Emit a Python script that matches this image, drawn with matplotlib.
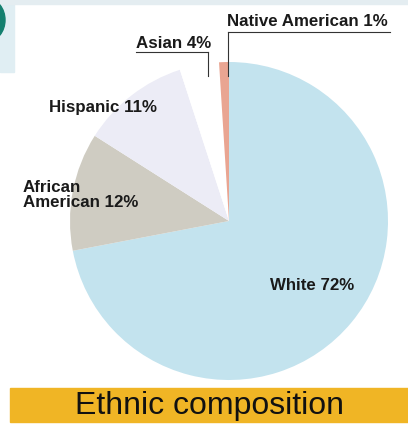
import matplotlib
matplotlib.use("Agg")
import matplotlib.pyplot as plt
from matplotlib.patches import Rectangle, Ellipse
from matplotlib.lines import Line2D

groups = ["White", "African\nAmerican", "Hispanic", "Asian", "Native American"]
shares = [72, 12, 11, 4, 1]
colors = ["#c3e3ee", "#cfccc2", "#ececf6", "#ffffff", "#e9a592"]
title = "Ethnic composition"

W, H = 408, 428
fig = plt.figure(figsize=(W / 100, H / 100), dpi=100)
fig.patch.set_facecolor("white")


def fx(px):
    return px / W


def fy(py):
    return 1 - py / H


# page decoration at top-left
fig.add_artist(Rectangle((0, fy(72)), fx(14), 72 / H, transform=fig.transFigure,
                         color="#e0eef3", zorder=0))
fig.add_artist(Rectangle((0, fy(4)), 1, 4 / H, transform=fig.transFigure,
                         color="#e4edf1", zorder=0))
fig.add_artist(Ellipse((fx(-12), fy(20)), 2 * 17 / W, 2 * 21 / H,
                       transform=fig.transFigure, color="#14806f", zorder=1))

# pie
cx, cy, r = 229, 221, 159
ax = fig.add_axes([fx(cx - r), fy(cy + r), 2 * r / W, 2 * r / H])
ax.pie(shares, colors=colors, startangle=90, counterclock=False,
       wedgeprops=dict(linewidth=0))
ax.set_xlim(-1, 1)
ax.set_ylim(-1, 1)
ax.set_aspect("equal")
ax.axis("off")

lab = {g: f"{g} {s}%" for g, s in zip(groups, shares)}
kw = dict(fontsize=12.2, fontweight="bold", family="Liberation Sans", color="#1a1a1a")
fig.text(fx(227), fy(22), lab["Native American"], ha="left", va="center", **kw)
fig.text(fx(136), fy(44), lab["Asian"], ha="left", va="center", **kw)
fig.text(fx(49), fy(108), lab["Hispanic"], ha="left", va="center", **kw)
fig.text(fx(23), fy(195), lab["African\nAmerican"], ha="left", va="center",
         linespacing=0.95, **kw)
fig.text(fx(270), fy(286), lab["White"], ha="left", va="center", **kw)

# leader lines for the thin slices
lc = "#333333"
fig.add_artist(Line2D([fx(228), fx(390)], [fy(32), fy(32)], color=lc, lw=0.8))
fig.add_artist(Line2D([fx(228), fx(228)], [fy(32), fy(76)], color=lc, lw=0.8))
fig.add_artist(Line2D([fx(136), fx(208)], [fy(52), fy(52)], color=lc, lw=0.8))
fig.add_artist(Line2D([fx(208), fx(208)], [fy(52), fy(76)], color=lc, lw=0.8))

# caption banner
fig.add_artist(Rectangle((fx(10), fy(422)), 1 - fx(10), 34 / H,
                         transform=fig.transFigure, color="#f0b525", zorder=0))
fig.text(fx(210), fy(406), title, ha="center", va="center", fontsize=23,
         family="Liberation Sans", color="#111111")

fig.savefig("out.png", dpi=100)
